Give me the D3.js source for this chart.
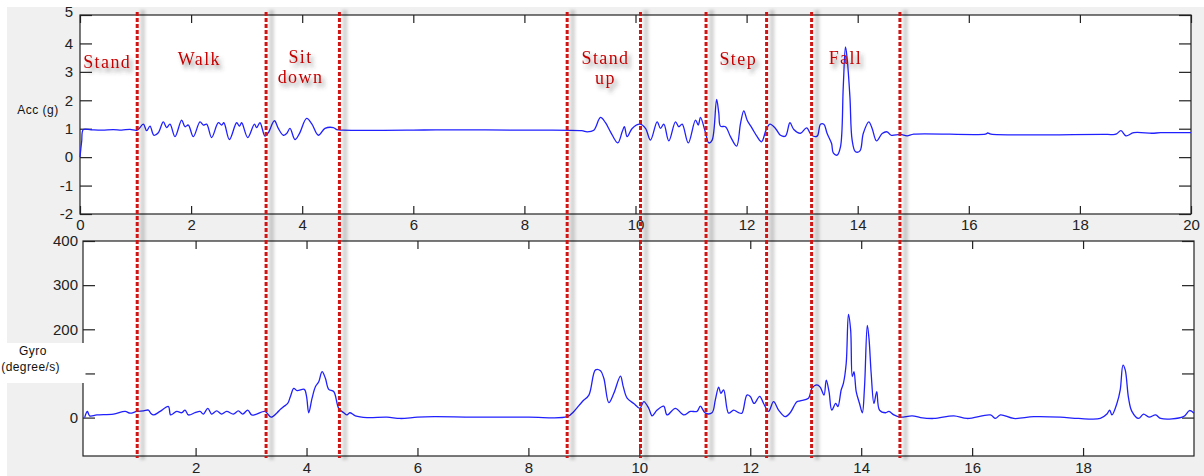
<!DOCTYPE html>
<html>
<head>
<meta charset="utf-8">
<script src="https://cdn.jsdelivr.net/npm/d3@7"></script>
<style>
    html, body { margin: 0; padding: 0; background: #fff; }
    svg { display: block; }
    text { font-family: 'Liberation Sans', Arial, sans-serif; }
</style>
</head>
<body>
<div id="chart"></div>
<script>
// Accelerometer magnitude (g) over time (s)
var accT = [0, 0.03, 0.06, 0.2, 0.4, 0.6, 0.75, 0.9, 1.03, 1.14, 1.2, 1.26, 1.33, 1.41, 1.5, 1.56, 1.62, 1.71,
    1.83, 1.89, 1.95, 2.04, 2.16, 2.22, 2.28, 2.37, 2.49, 2.55, 2.59, 2.69, 2.82, 2.87, 2.91, 3.02, 3.14, 3.18,
    3.24, 3.33, 3.39, 3.5, 3.57, 3.66, 3.72, 3.78, 3.87, 3.95, 4.08, 4.17, 4.29, 4.41, 4.56, 4.62, 4.74, 6.0,
    6.4, 8.0, 9.03, 9.13, 9.25, 9.37, 9.46, 9.55, 9.68, 9.76, 9.8, 9.85, 9.94, 10.08, 10.18, 10.27, 10.39, 10.45,
    10.51, 10.6, 10.72, 10.78, 10.84, 10.95, 11.08, 11.13, 11.17, 11.26, 11.32, 11.38, 11.46, 11.5, 11.53,
    11.62, 11.71, 11.82, 11.89, 11.95, 12.01, 12.1, 12.19, 12.27, 12.35, 12.42, 12.52, 12.61, 12.7, 12.78,
    12.85, 12.97, 13.08, 13.17, 13.27, 13.33, 13.39, 13.45, 13.53, 13.56, 13.63, 13.69, 13.74, 13.78, 13.81,
    13.86, 13.9, 13.96, 14.04, 14.1, 14.2, 14.26, 14.34, 14.44, 14.53, 14.6, 14.77, 14.89, 15.01, 16.3, 16.34,
    16.4, 18.5, 18.6, 18.66, 18.74, 18.83, 18.97, 19.3, 19.45, 20.0];
var accV = [0, 0.55, 0.97, 0.96, 0.95, 0.97, 0.95, 0.98, 0.95, 1.16, 0.93, 1.09, 0.77, 0.86, 1.24, 1.04, 1.16, 0.72,
    1.3, 1.07, 1.13, 0.72, 1.24, 1.13, 1.16, 0.69, 1.21, 1.13, 1.21, 0.62, 1.21, 1.09, 1.21, 0.69, 1.16, 1.04,
    1.21, 0.74, 0.86, 1.28, 1.01, 0.77, 0.83, 1.01, 0.62, 0.83, 1.36, 1.18, 0.77, 1.01, 1.04, 0.97, 0.95, 0.95,
    0.96, 0.95, 0.93, 0.89, 0.95, 1.4, 1.21, 0.89, 0.5, 0.89, 1.07, 0.72, 1.01, 1.16, 1.01, 0.6, 1.24, 1.01,
    1.16, 0.57, 1.24, 1.07, 1.16, 0.5, 1.3, 1.13, 1.4, 0.86, 0.5, 0.6, 2.03, 1.54, 1.09,
    1.07, 0.72, 0.39, 1.18, 1.63, 1.3, 1.01, 0.72, 0.54, 0.95, 1.16, 1.01, 0.77, 0.74, 1.21,
    0.97, 0.84, 1.03, 0.77, 0.74, 1.16, 1.16, 0.83, 0.48, 0.15, 0.07, 0.36, 2.47, 3.88, 3.47,
    2.12, 0.6, 0.19, 0.22, 0.83, 1.24, 1.01, 0.57, 0.83, 0.89, 0.77, 0.8, 0.75, 0.81, 0.81, 0.85,
    0.81, 0.8, 0.79, 0.82, 0.93, 0.75, 0.86, 0.84, 0.86, 0.86];

// Gyroscope magnitude (degree/s) over time (s)
var gyroT = [0, 0.03, 0.05, 0.09, 0.22, 0.52, 0.73, 0.82, 0.94, 1.06, 1.15, 1.19, 1.24, 1.36, 1.51, 1.55, 1.66,
    1.75, 1.81, 1.87, 1.99, 2.08, 2.14, 2.22, 2.29, 2.38, 2.47, 2.56, 2.68, 2.77, 2.85, 2.94, 3.01, 3.1, 3.25,
    3.36, 3.47, 3.53, 3.59, 3.66, 3.71, 3.77, 3.83, 3.96, 4.0, 4.04, 4.1, 4.16, 4.22, 4.28, 4.34, 4.4, 4.49,
    4.58, 4.67, 4.73, 4.78, 4.88, 5.09, 5.45, 5.69, 6.0, 6.3, 7.0, 8.0, 8.7, 8.82, 8.97, 9.09, 9.21, 9.3, 9.36,
    9.45, 9.54, 9.66, 9.71, 9.78, 9.9, 10.01, 10.08, 10.17, 10.23, 10.32, 10.44, 10.5, 10.65, 10.8, 10.92,
    11.04, 11.1, 11.19, 11.31, 11.37, 11.43, 11.47, 11.52, 11.61, 11.7, 11.79, 11.85, 11.94, 12.0, 12.07,
    12.17, 12.24, 12.33, 12.42, 12.51, 12.63, 12.72, 12.84, 12.9, 13.05, 13.11, 13.2, 13.26, 13.33, 13.37,
    13.42, 13.47, 13.54, 13.58, 13.64, 13.68, 13.73, 13.77, 13.81, 13.84, 13.87, 13.91, 13.97, 14.02, 14.06,
    14.11, 14.14, 14.18, 14.23, 14.28, 14.33, 14.44, 14.5, 14.59, 14.7, 14.92, 15.07, 15.31, 15.67, 15.91,
    16.33, 16.42, 16.51, 16.75, 17.11, 17.59, 17.92, 18.31, 18.43, 18.48, 18.52, 18.61, 18.67, 18.72, 18.76,
    18.82, 18.88, 19.0, 19.09, 19.19, 19.31, 19.4, 19.81, 19.92, 20.0];
var gyroV = [0, 11, 14, 4, 6, 8, 14, 10, 14, 15, 17, 10, 6, 14, 25, 6, 14,
    11, 17, 6, 11, 14, 8, 21, 8, 15, 8, 14, 8, 15, 8, 17, 6, 8, 14,
    1, 11, 19, 25, 32, 48, 66, 61, 64, 48, 11, 44, 70, 81, 104, 89, 64, 59,
    21, 11, 6, 11, 4, 0, 1, -2, 1, 2, 1, 1, 2, 14, 36, 51, 108, 106, 89,
    34, 55, 94, 70, 44, 32, 21, 36, 21, 4, 17, 26, 6, 21, 6, 14,
    14, 26, 10, 11, 40, 69, 55, 63, 10, 17, 11, 10, 51, 48, 32,
    48, 32, 14, 36, 17, 2, 11, 36, 38, 44, 66, 74, 69, 51, 85,
    59, 17, 32, 25, 63, 78, 123, 234, 198, 93, 104, 59, 32, 11, 70,
    209, 180, 100, 32, 59, 17, 11, 14, 6, 1, 4, 0, -2, 4, -2,
    6, -2, 6, -2, 2, 1, -2, -2, 8, 17, 6, 32, 63, 119, 108,
    44, 14, -2, 8, 1, 6, -2, 2, 16, 10];

// activity boundaries (s) and phase names
var boundaries = [1.03, 3.35, 4.67, 8.77, 10.09, 11.27, 12.36, 13.17, 14.76];
var phaseNames = [['Stand'], ['Walk'], ['Sit', 'down'], ['Stand', 'up'], ['Step'], ['Fall']];
var phaseLabelT = [0.49, 2.15, 3.97, 9.46, 11.85, 13.78];
var phaseLabelY = [68, 65, 63, 64, 65, 64];

var accXTicks = [0, 2, 4, 6, 8, 10, 12, 14, 16, 18, 20];
var accYTicks = [-2, -1, 0, 1, 2, 3, 4, 5];
var gyroXTicks = [2, 4, 6, 8, 10, 12, 14, 16, 18];
var gyroYTicks = [0, 100, 200, 300, 400];
var gyroHiddenLabel = 100; // covered by the white patch in the original

var width = 1204,
    height = 476;

var svg = d3.select('#chart').append('svg').attr('width', width).attr('height', height);

var defs = svg.append('defs');
defs.append('filter')
    .attr('id', 'txtShadow')
    .attr('x', '-20%').attr('y', '-30%').attr('width', '150%').attr('height', '170%')
    .append('feDropShadow')
    .attr('dx', 3).attr('dy', 4).attr('stdDeviation', 2)
    .attr('flood-color', '#444').attr('flood-opacity', 0.6);
defs.append('filter')
    .attr('id', 'blur')
    .attr('x', '-150%').attr('width', '400%')
    .append('feGaussianBlur')
    .attr('stdDeviation', 1.5);

// figure background
svg.append('rect')
    .attr('x', 7).attr('y', 7)
    .attr('width', width - 7).attr('height', height - 7)
    .attr('fill', '#f0f0f0');

// scales
var xA = d3.scaleLinear().domain([0, 20]).range([80, 1191]);
var yA = d3.scaleLinear().domain([-2, 5]).range([214, 15]);
var xB = d3.scaleLinear().domain([-0.03, 20]).range([83, 1194]);
var yB = d3.scaleLinear().domain([-87, 400]).range([456, 241]);

var plain = function (d) {
    return String(d);
};

function drawPanel(x, y, xTicks, yTicks, opts) {
    var x0 = x.range()[0], x1 = x.range()[1];
    var y0 = y.range()[1], y1 = y.range()[0];

    svg.append('rect')
        .attr('x', x0).attr('y', y0)
        .attr('width', x1 - x0).attr('height', y1 - y0)
        .attr('fill', '#fff');

    var g = svg.append('g');

    g.append('g')
        .attr('transform', 'translate(0,' + y1 + ')')
        .call(d3.axisBottom(x).tickValues(xTicks).tickSize(-8).tickPadding(opts.xPad).tickFormat(plain));
    g.append('g')
        .attr('transform', 'translate(0,' + y0 + ')')
        .call(d3.axisTop(x).tickValues(xTicks).tickSize(-8).tickFormat(''));
    g.append('g')
        .attr('class', 'yaxis')
        .attr('transform', 'translate(' + x0 + ',0)')
        .call(d3.axisLeft(y).tickValues(yTicks).tickSize(-12).tickPadding(opts.yPad).tickFormat(opts.yFormat || plain));
    g.append('g')
        .attr('transform', 'translate(' + x1 + ',0)')
        .call(d3.axisRight(y).tickValues(yTicks).tickSize(-12).tickFormat(''));

    g.selectAll('.domain').remove();
    g.selectAll('.tick line').attr('stroke', '#222').attr('stroke-width', 1.2);
    g.selectAll('.tick text')
        .attr('fill', '#222')
        .style('font-size', '15px')
        .style('font-family', "'Liberation Sans', Arial, sans-serif");

    g.append('rect')
        .attr('x', x0).attr('y', y0)
        .attr('width', x1 - x0).attr('height', y1 - y0)
        .attr('fill', 'none')
        .attr('stroke', '#222')
        .attr('stroke-width', 1.2);

    return g;
}

var accPanel = drawPanel(xA, yA, accXTicks, accYTicks, { xPad: 5, yPad: 7 });
var gyroPanel = drawPanel(xB, yB, gyroXTicks, gyroYTicks, {
    xPad: 6,
    yPad: 5,
    yFormat: function (d) {
        return d === gyroHiddenLabel ? '' : String(d);
    }
});

// the "5" label sits a bit higher than its tick in the original
accPanel.select('.yaxis').selectAll('.tick text')
    .filter(function (d) { return d === 5; })
    .attr('dy', '0.1em');

// signals
var accLine = d3.line()
    .curve(d3.curveCatmullRom.alpha(0.5))
    .x(function (d) { return xA(d[0]); })
    .y(function (d) { return yA(d[1]); });
var gyroLine = d3.line()
    .curve(d3.curveCatmullRom.alpha(0.5))
    .x(function (d) { return xB(d[0]); })
    .y(function (d) { return yB(d[1]); });

svg.append('path')
    .datum(d3.zip(accT, accV))
    .attr('d', accLine)
    .attr('fill', 'none')
    .attr('stroke', '#2020ff')
    .attr('stroke-width', 1.3)
    .attr('stroke-linejoin', 'round');

svg.append('path')
    .datum(d3.zip(gyroT, gyroV))
    .attr('d', gyroLine)
    .attr('fill', 'none')
    .attr('stroke', '#2020ff')
    .attr('stroke-width', 1.3)
    .attr('stroke-linejoin', 'round');

// y axis titles
svg.append('text')
    .attr('x', 38).attr('y', 114)
    .attr('text-anchor', 'middle')
    .style('font-size', '12px')
    .style('letter-spacing', '0.5px')
    .attr('fill', '#111')
    .text('Acc (g)');

// white patch behind the gyro title
svg.append('rect')
    .attr('x', 0).attr('y', 343)
    .attr('width', 85.5).attr('height', 40)
    .attr('fill', '#fff');
svg.append('text')
    .attr('x', 33).attr('y', 355)
    .attr('text-anchor', 'middle')
    .style('font-size', '12px')
    .style('letter-spacing', '0.5px')
    .attr('fill', '#111')
    .text('Gyro');
svg.append('text')
    .attr('x', 60).attr('y', 371)
    .attr('text-anchor', 'end')
    .style('font-size', '12px')
    .style('letter-spacing', '0.4px')
    .attr('fill', '#111')
    .text('(degree/s)');

// phase boundaries: blurred shadow + red dashed line
var marks = svg.append('g');
boundaries.forEach(function (b) {
    var px = xA(b);
    marks.append('rect')
        .attr('x', px + 3).attr('y', 10)
        .attr('width', 5).attr('height', 450)
        .attr('fill', '#000')
        .attr('fill-opacity', 0.16)
        .attr('filter', 'url(#blur)');
    marks.append('line')
        .attr('x1', px).attr('x2', px)
        .attr('y1', 12).attr('y2', 458)
        .attr('stroke', '#d01515')
        .attr('stroke-width', 3)
        .attr('stroke-dasharray', '4,2');
});

// phase labels
phaseNames.forEach(function (lines, i) {
    var t = svg.append('text')
        .attr('x', xA(phaseLabelT[i]))
        .attr('y', phaseLabelY[i])
        .attr('text-anchor', 'middle')
        .attr('fill', '#c40000')
        .attr('filter', 'url(#txtShadow)')
        .style('font-family', "'Liberation Serif', 'Times New Roman', serif")
        .style('font-size', '18px')
        .style('letter-spacing', '1.4px');
    lines.forEach(function (l, j) {
        t.append('tspan')
            .attr('x', xA(phaseLabelT[i]))
            .attr('dy', j === 0 ? 0 : 20)
            .text(l);
    });
});
</script>
</body>
</html>
